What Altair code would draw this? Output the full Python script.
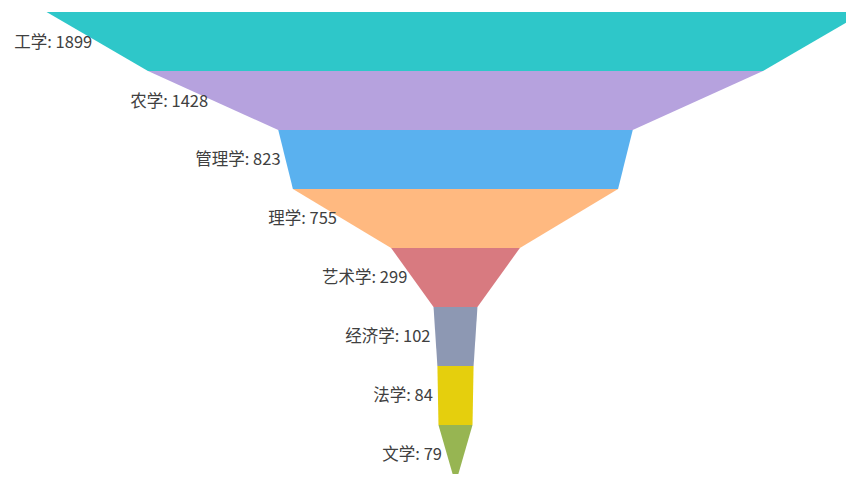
import altair as alt
import pandas as pd

categories = ["工学", "农学", "管理学", "理学", "艺术学", "经济学", "法学", "文学"]
values = [1899, 1428, 823, 755, 299, 102, 84, 79]
colors = ["#2EC7C9", "#B6A2DE", "#5AB1EF", "#FFB980", "#D87A80", "#8D98B3", "#E5CF0D", "#97B552"]

rows = []
labels = []
for i, (c, v) in enumerate(zip(categories, values)):
    nxt = values[i + 1] if i + 1 < len(values) else 0
    rows.append({"cat": c, "lvl": i, "y": i, "xl": -v / 2, "xr": v / 2})
    rows.append({"cat": c, "lvl": i, "y": i + 1, "xl": -nxt / 2, "xr": nxt / 2})
    labels.append({"cat": c, "y": i + 0.5, "x": -(v + nxt) / 4, "label": f"{c}: {v}"})

poly = pd.DataFrame(rows)
lab = pd.DataFrame(labels)

xs = alt.Scale(domain=[-1039, 906.7], nice=False, zero=False)
ys = alt.Scale(domain=[-0.068, 7.831], nice=False, zero=False, reverse=True)

areas = alt.Chart(poly).mark_area(orient="horizontal", clip=True, opacity=1).encode(
    y=alt.Y("y:Q", scale=ys, axis=None),
    x=alt.X("xl:Q", scale=xs, axis=None),
    x2="xr:Q",
    color=alt.Color("cat:N", scale=alt.Scale(domain=categories, range=colors), legend=None),
    detail="lvl:N",
)

text = alt.Chart(lab).mark_text(
    align="right", baseline="middle", dx=-5, dy=1, fontSize=16.5,
    font="Noto Sans CJK SC", color="#404040"
).encode(
    y=alt.Y("y:Q", scale=ys, axis=None),
    x=alt.X("x:Q", scale=xs, axis=None),
    text="label:N",
)

chart = alt.layer(areas, text).properties(
    width=838, height=466, padding=0, autosize=alt.AutoSizeParams(type="none")
).configure_view(stroke=None)

chart.save("out.html", embed_options={"renderer": "svg", "actions": False})
